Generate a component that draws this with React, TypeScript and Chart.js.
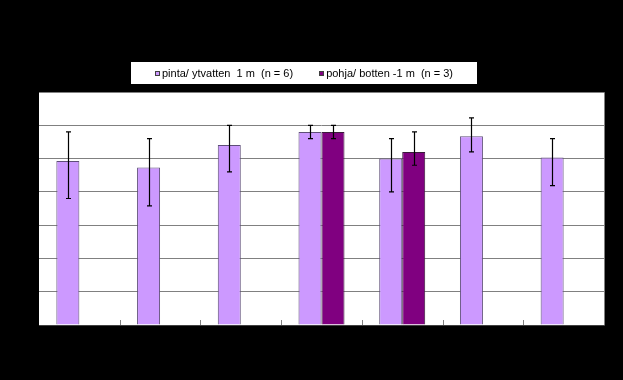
import React, { useEffect, useRef } from "react";
import { Chart, registerables } from "chart.js";

Chart.register(...registerables);

const categories = ["1", "2", "3", "4", "5", "6", "7"];
const seriesNames = ["pinta/ ytvatten  1 m  (n = 6)", "pohja/ botten -1 m  (n = 3)"];
const pintaValues = [4.93, 4.73, 5.41, 5.8, 5.0, 5.67, 5.03];
const pintaHigh = [5.8, 5.6, 6.0, 6.0, 5.6, 6.22, 5.6];
const pintaLow = [3.8, 3.58, 4.6, 5.6, 4.0, 5.2, 4.19];
const pohjaValues = [null, null, null, 5.8, 5.2, null, null];
const pohjaHigh = [null, null, null, 6.0, 5.8, null, null];
const pohjaLow = [null, null, null, 5.6, 4.8, null, null];
const yTicks = [0, 1, 2, 3, 4, 5, 6, 7];

const highs = [pintaHigh, pohjaHigh];
const lows = [pintaLow, pohjaLow];

const FONT = "'Liberation Sans', Arial, sans-serif";

const decorPlugin = {
  id: "decor",
  beforeDraw(chart: any) {
    const { ctx, chartArea: a, width, height } = chart;
    ctx.save();
    ctx.fillStyle = "#000000";
    ctx.fillRect(0, 0, width, height);
    ctx.fillStyle = "#ffffff";
    ctx.fillRect(a.left, a.top, a.right - a.left, a.bottom - a.top);
    ctx.restore();
  },
  afterDatasetsDraw(chart: any) {
    const { ctx, chartArea: a } = chart;
    const yScale = chart.scales.y;
    const xScale = chart.scales.x;
    ctx.save();
    // error bars
    ctx.strokeStyle = "#000000";
    ctx.lineWidth = 1.2;
    chart.data.datasets.forEach((ds: any, di: number) => {
      const meta = chart.getDatasetMeta(di);
      meta.data.forEach((bar: any, i: number) => {
        const hi = highs[di][i];
        const lo = lows[di][i];
        if (hi == null || lo == null || ds.data[i] == null) return;
        const x = Math.round(bar.x) + 0.5;
        const yh = yScale.getPixelForValue(hi);
        const yl = yScale.getPixelForValue(lo);
        ctx.beginPath();
        ctx.moveTo(x, yh);
        ctx.lineTo(x, yl);
        ctx.moveTo(x - 2.5, yh);
        ctx.lineTo(x + 2.5, yh);
        ctx.moveTo(x - 2.5, yl);
        ctx.lineTo(x + 2.5, yl);
        ctx.stroke();
      });
    });
    // category boundary ticks
    ctx.strokeStyle = "#808080";
    ctx.lineWidth = 1;
    for (let i = 0; i < categories.length - 1; i++) {
      const x = Math.round((xScale.getPixelForValue(i) + xScale.getPixelForValue(i + 1)) / 2) + 0.5;
      ctx.beginPath();
      ctx.moveTo(x, a.bottom);
      ctx.lineTo(x, a.bottom - 5);
      ctx.stroke();
    }
    // plot border
    ctx.strokeStyle = "#808080";
    ctx.beginPath();
    ctx.moveTo(a.left, Math.round(a.top) + 0.5);
    ctx.lineTo(Math.round(a.right) + 0.5, Math.round(a.top) + 0.5);
    ctx.lineTo(Math.round(a.right) + 0.5, a.bottom);
    ctx.stroke();
    ctx.strokeStyle = "#404040";
    ctx.beginPath();
    ctx.moveTo(a.left, Math.round(a.bottom) + 0.5);
    ctx.lineTo(a.right + 1, Math.round(a.bottom) + 0.5);
    ctx.stroke();
    ctx.restore();
  },
  afterDraw(chart: any) {
    const { ctx } = chart;
    ctx.save();
    ctx.font = `11px ${FONT}`;
    ctx.textBaseline = "middle";
    const sq = 5;
    const gap = 2;
    const itemGap = 26;
    const widths = seriesNames.map((n) => sq + gap + ctx.measureText(n).width);
    const content = widths.reduce((s, w) => s + w, 0) + itemGap * (widths.length - 1);
    const cx = 304;
    const boxW = content + 48;
    const boxTop = 62;
    const boxH = 22;
    ctx.fillStyle = "#ffffff";
    ctx.fillRect(Math.round(cx - boxW / 2), boxTop, Math.round(boxW), boxH);
    let x = cx - content / 2;
    const cy = boxTop + boxH / 2;
    chart.data.datasets.forEach((ds: any, i: number) => {
      ctx.fillStyle = ds.backgroundColor;
      ctx.fillRect(Math.round(x), Math.round(cy - sq / 2), sq, sq);
      ctx.strokeStyle = "#404040";
      ctx.lineWidth = 1;
      ctx.strokeRect(Math.round(x) + 0.5, Math.round(cy - sq / 2) + 0.5, sq - 1, sq - 1);
      ctx.fillStyle = "#000000";
      ctx.fillText(seriesNames[i], x + sq + gap, cy + 0.5);
      x += widths[i] + itemGap;
    });
    ctx.restore();
  },
};

export default function App() {
  const ref = useRef<HTMLCanvasElement | null>(null);
  useEffect(() => {
    if (!ref.current) return;
    const chart = new Chart(ref.current, {
      type: "bar",
      data: {
        labels: categories,
        datasets: [
          {
            label: seriesNames[0],
            data: pintaValues,
            backgroundColor: "#CC99FF",
            borderColor: "#5e4e78",
            borderWidth: 1,
            categoryPercentage: 0.57,
            barPercentage: 1.0,
          },
          {
            label: seriesNames[1],
            data: pohjaValues as any,
            backgroundColor: "#800080",
            borderColor: "#3a1a3a",
            borderWidth: 1,
            categoryPercentage: 0.57,
            barPercentage: 1.0,
          },
        ],
      },
      options: {
        responsive: false,
        animation: false,
        devicePixelRatio: 1,
        layout: { padding: { top: 92, right: 19, left: 0, bottom: 0 } },
        plugins: { legend: { display: false }, tooltip: { enabled: false } },
        scales: {
          x: {
            grid: { display: false },
            border: { display: false },
            ticks: { color: "#000000", font: { family: FONT, size: 11 } },
            afterFit: (s: any) => {
              s.height = 55;
            },
          },
          y: {
            min: yTicks[0],
            max: yTicks[yTicks.length - 1],
            afterBuildTicks: (s: any) => {
              s.ticks = yTicks.map((v) => ({ value: v }));
            },
            grid: { color: "#808080", drawTicks: false },
            border: { display: false },
            ticks: { color: "#000000", font: { family: FONT, size: 11 } },
            afterFit: (s: any) => {
              s.width = 39;
            },
          },
        },
      } as any,
      plugins: [decorPlugin],
    });
    return () => chart.destroy();
  }, []);
  return (
    <div style={{ position: "absolute", left: 0, top: 0, width: 623, height: 380, background: "#000" }}>
      <canvas ref={ref} width={623} height={380} style={{ display: "block" }} />
    </div>
  );
}
